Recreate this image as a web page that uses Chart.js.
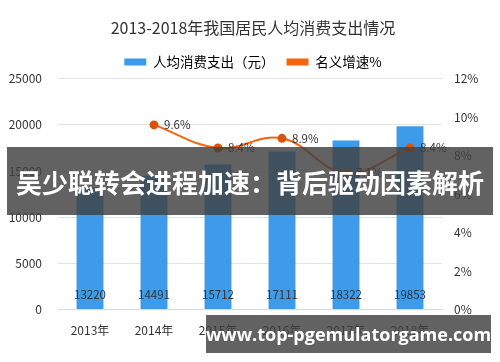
<!DOCTYPE html>
<html>
<head>
<meta charset="utf-8">
<script src="https://cdn.jsdelivr.net/npm/chart.js@4"></script>
<style>
  html, body { margin: 0; padding: 0; background: #fff; }
  #wrap { position: relative; width: 500px; height: 362px; }
  .banner {
    position: absolute; left: 7px; top: 147px; width: 486px; height: 68px;
    background: rgba(64, 64, 64, 0.82); color: #fff;
    font: bold 26px "Noto Sans CJK SC", sans-serif;
    display: flex; align-items: center; justify-content: center; white-space: nowrap;
  }
  .site {
    position: absolute; left: 206px; top: 315px; width: 285px; height: 38px;
    background: rgba(64, 64, 64, 0.82); color: #fff;
    font: bold 18px "Open Sans", "DejaVu Sans", sans-serif;
    display: flex; align-items: center; justify-content: center; white-space: nowrap;
  }
</style>
</head>
<body>
<div id="wrap">
  <canvas id="chart" width="500" height="362"></canvas>
  <div class="banner">吴少聪转会进程加速：背后驱动因素解析</div>
  <div class="site">www.top-pgemulatorgame.com</div>
</div>
<script>
const years = ['2013年', '2014年', '2015年', '2016年', '2017年', '2018年'];
const spending = [13220, 14491, 15712, 17111, 18322, 19853];
const growth = [null, 9.6, 8.4, 8.9, 7.1, 8.4];

const font = '"Noto Sans CJK SC", sans-serif';

// value labels: bar values near the bottom, growth % right of each point
const valueLabels = {
    id: 'valueLabels',
    afterDatasetsDraw(chart) {
        const ctx = chart.ctx;
        ctx.save();
        ctx.fillStyle = '#333';
        ctx.font = '11.5px ' + font;
        const bars = chart.getDatasetMeta(0).data;
        bars.forEach((bar, i) => {
            ctx.textAlign = 'center';
            ctx.textBaseline = 'middle';
            ctx.fillText(spending[i], bar.x, chart.chartArea.bottom - 15);
        });
        const pts = chart.getDatasetMeta(1).data;
        pts.forEach((pt, i) => {
            if (growth[i] == null) return;
            ctx.textAlign = 'left';
            ctx.textBaseline = 'middle';
            ctx.fillText(growth[i].toFixed(1) + '%', pt.x + 10, pt.y);
        });
        ctx.restore();
    }
};

new Chart(document.getElementById('chart').getContext('2d'), {
    data: {
        labels: years,
        datasets: [{
            type: 'bar',
            label: '人均消费支出（元）',
            data: spending,
            backgroundColor: '#3d9be9',
            categoryPercentage: 1,
            barPercentage: 0.42,
            yAxisID: 'y',
            order: 2
        }, {
            type: 'line',
            label: '名义增速%',
            data: growth,
            borderColor: '#f5640f',
            backgroundColor: '#f5640f',
            pointBackgroundColor: '#d9540c',
            pointBorderColor: '#d9540c',
            borderWidth: 2,
            pointRadius: 3.5,
            tension: 0.4,
            yAxisID: 'y1',
            order: 1
        }]
    },
    options: {
        responsive: false,
        animation: false,
        layout: { padding: { left: 6, right: 0, top: 10, bottom: 18 } },
        plugins: {
            title: {
                display: true,
                text: '2013-2018年我国居民人均消费支出情况',
                color: '#333',
                font: { family: font, size: 16, weight: 'normal' },
                padding: { top: 8, bottom: 6 }
            },
            legend: {
                labels: {
                    color: '#333',
                    font: { family: font, size: 13.5 },
                    boxWidth: 22,
                    boxHeight: 7,
                    padding: 12,
                    generateLabels(chart) {
                        return [{
                            text: '人均消费支出（元）', fillStyle: '#3d9be9',
                            strokeStyle: '#3d9be9', lineWidth: 0, datasetIndex: 0
                        }, {
                            text: '名义增速%', fillStyle: '#f5640f',
                            strokeStyle: '#f5640f', lineWidth: 0, datasetIndex: 1
                        }];
                    }
                }
            },
            tooltip: { enabled: false }
        },
        scales: {
            x: {
                grid: { display: false },
                border: { color: '#d9d9d9' },
                ticks: { color: '#333', font: { family: font, size: 12 }, padding: 6 }
            },
            y: {
                position: 'left',
                min: 0, max: 25000,
                afterFit(axis) { axis.width = 52; },
                ticks: {
                    stepSize: 5000, color: '#333', font: { family: font, size: 12 }, padding: 16,
                    callback: v => String(v)
                },
                grid: { color: '#e3e3e3', drawTicks: false },
                border: { display: false }
            },
            y1: {
                position: 'right',
                min: 0, max: 12,
                afterFit(axis) { axis.width = 58; },
                ticks: {
                    stepSize: 2, color: '#333', font: { family: font, size: 12 }, padding: 12,
                    callback: v => v + '%'
                },
                grid: { display: false, drawTicks: false },
                border: { display: false }
            }
        }
    },
    plugins: [valueLabels]
});
</script>
</body>
</html>
